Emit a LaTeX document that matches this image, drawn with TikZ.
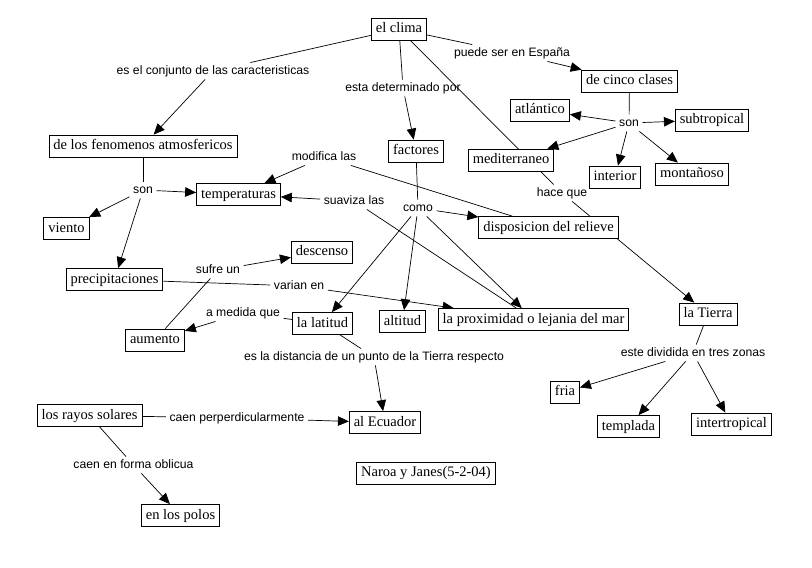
\documentclass[tikz,border=0pt]{standalone}
\usepackage{fontspec}
\setmainfont{Liberation Serif}
\newfontfamily\lblfont{Liberation Sans}
\usetikzlibrary{arrows.meta}
\pgfdeclarelayer{bg}
\pgfsetlayers{bg,main}
\begin{document}
\begin{tikzpicture}[x=1pt,y=-1pt,
 concept/.style={draw, line width=0.8pt, fill=white, font=\fontsize{14.5}{16}\selectfont,
   inner xsep=4.5pt, inner ysep=0pt, minimum height=22pt, text height=10.5pt, text depth=3pt},
 link/.style={font=\lblfont\fontsize{12.2}{14}\selectfont, inner xsep=3.5pt, inner ysep=2.5pt, text height=9pt, text depth=2.5pt},
 conn/.style={line width=0.7pt},
 arr/.style={conn, -{Triangle[length=11pt,width=9.5pt]}}]
\useasboundingbox (0,0) rectangle (812,568);

\node[concept] (clima) at (399,29) {el clima};
\node[link] (conj) at (213,71) {es el conjunto de las caracteristicas};
\node[concept] (fen) at (143,146) {de los fenomenos atmosfericos};
\node[link] (det) at (403,88) {esta determinado por};
\node[concept] (fac) at (416,151) {factores};
\node[link] (pse) at (512,53) {puede ser en España};
\node[concept] (cinco) at (629.5,81) {de cinco clases};
\node[link] (sonr) at (629,123) {son};
\node[concept] (atl) at (540,110) {atlántico};
\node[concept] (subt) at (712,120) {subtropical};
\node[concept] (med) at (511,160) {mediterraneo};
\node[concept] (inte) at (615,177) {interior};
\node[concept] (mont) at (692,174) {montañoso};
\node[link] (hace) at (562,193) {hace que};
\node[concept] (disp) at (548.5,227.5) {disposicion del relieve};
\node[link] (como) at (418,208) {como};
\node[concept] (temp) at (238.5,194.5) {temperaturas};
\node[link] (sonl) at (143,190) {son};
\node[concept] (viento) at (66.5,228.5) {viento};
\node[concept] (prec) at (114.5,279.5) {precipitaciones};
\node[concept] (desc) at (322,252) {descenso};
\node[link] (sufre) at (218,270) {sufre un};
\node[concept] (aum) at (155,340) {aumento};
\node[link] (varian) at (299,286) {varian en};
\node[concept] (lat) at (322.5,323.5) {la latitud};
\node[link] (amed) at (243,313) {a medida que};
\node[link] (dist) at (374,357) {es la distancia de un punto de la Tierra respecto};
\node[concept] (ecu) at (385,422.5) {al Ecuador};
\node[concept] (rayos) at (89.5,415.5) {los rayos solares};
\node[link] (perp) at (237,418) {caen perperdicularmente};
\node[link] (obl) at (133.5,465) {caen en forma oblicua};
\node[concept] (polos) at (180.5,515.5) {en los polos};
\node[concept] (naroa) at (426,473) {Naroa y Janes(5-2-04)};
\node[concept] (tierra) at (708,314) {la Tierra};
\node[link] (zonas) at (693,353) {este dividida en tres zonas};
\node[concept] (fria) at (565,392) {fria};
\node[concept] (templ) at (628.5,426.5) {templada};
\node[concept] (intert) at (731.5,424) {intertropical};
\node[concept] (prox) at (533.5,319.5) {la proximidad o lejania del mar};
\node[concept] (alt) at (402.5,321.5) {altitud};
\node[link] (suav) at (354,201) {suaviza las};
\node[link] (modif) at (324,157) {modifica las};

\begin{pgfonlayer}{bg}
\fill[white] (0,0) rectangle (812,568);
\draw[conn] (clima) -- (conj);
\draw[arr] (conj) -- (fen);
\draw[conn] (clima) -- (det);
\draw[arr] (det) -- (fac);
\draw[conn] (clima) -- (pse);
\draw[arr] (pse) -- (cinco);
\draw[conn] (cinco) -- (sonr);
\draw[arr] (sonr) -- (atl);
\draw[arr] (sonr) -- (subt);
\draw[arr] (sonr) -- (med);
\draw[arr] (sonr) -- (inte);
\draw[arr] (sonr) -- (mont);
\draw[conn] (clima) -- (hace);
\draw[arr] (hace) -- (tierra);
\draw[conn] (fac) -- (como);
\draw[arr] (como) -- (disp);
\draw[arr] (como) -- (lat);
\draw[arr] (como) -- (alt);
\draw[arr] (como) -- (prox);
\draw[conn] (fen) -- (sonl);
\draw[arr] (sonl) -- (temp);
\draw[arr] (sonl) -- (viento);
\draw[arr] (sonl) -- (prec);
\draw[conn] (disp) -- (modif);
\draw[arr] (modif) -- (temp);
\draw[conn] (prox) -- (suav);
\draw[arr] (suav) -- (temp);
\draw[conn] (prec) -- (varian);
\draw[arr] (varian) -- (prox);
\draw[conn] (aum) -- (sufre);
\draw[arr] (sufre) -- (desc);
\draw[conn] (lat) -- (amed);
\draw[arr] (amed) -- (aum);
\draw[conn] (lat) -- (dist);
\draw[arr] (dist) -- (ecu);
\draw[conn] (rayos) -- (perp);
\draw[arr] (perp) -- (ecu);
\draw[conn] (rayos) -- (obl);
\draw[arr] (obl) -- (polos);
\draw[conn] (tierra) -- (zonas);
\draw[arr] (zonas) -- (fria);
\draw[arr] (zonas) -- (templ);
\draw[arr] (zonas) -- (intert);
\end{pgfonlayer}
\end{tikzpicture}
\end{document}
